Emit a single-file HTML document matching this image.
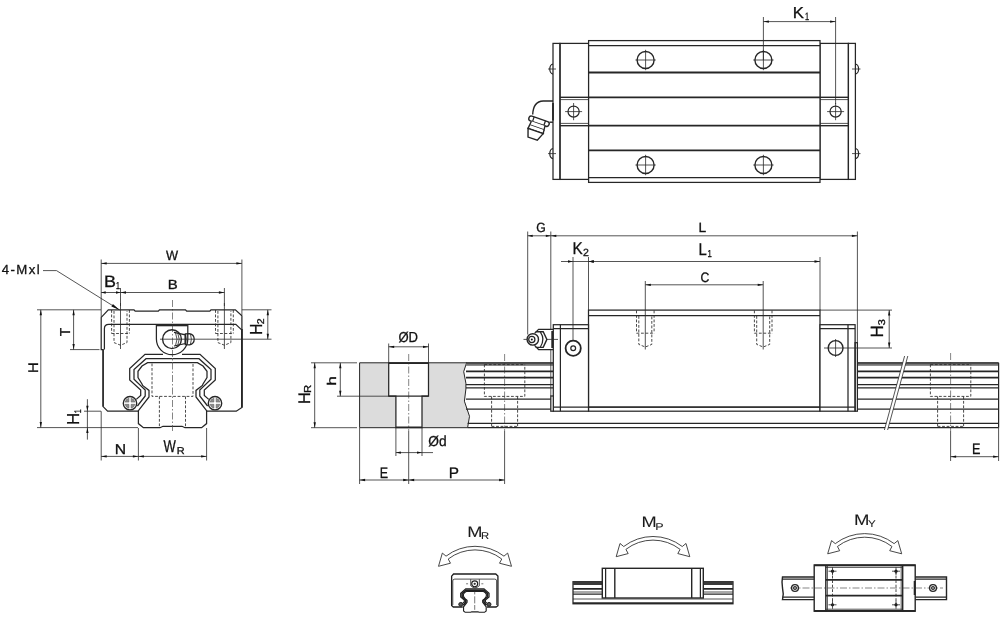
<!DOCTYPE html>
<html><head><meta charset="utf-8"><title>Linear guide dimensions</title>
<style>
html,body{margin:0;padding:0;background:#fff;}
body{width:1000px;height:624px;overflow:hidden;font-family:"Liberation Sans",sans-serif;}
svg{display:block}
svg text{font-family:"Liberation Sans",sans-serif;fill:#111;stroke:#111;stroke-width:.3;text-rendering:geometricPrecision;}
svg{will-change:transform;}
.o{fill:none;stroke:#262626;stroke-width:1.25;}
.ow{fill:#fff;stroke:#262626;stroke-width:1.25;}
.t{fill:none;stroke:#262626;stroke-width:1.8;}
.m{fill:none;stroke:#262626;stroke-width:1.4;}
.mw{fill:#fff;stroke:#262626;stroke-width:1.4;}
.d{fill:none;stroke:#2a2a2a;stroke-width:.8;}
.h{fill:none;stroke:#2a2a2a;stroke-width:.85;stroke-dasharray:2.8 1.7;}
.c{fill:none;stroke:#333;stroke-width:.6;stroke-dasharray:7 2 1.5 2;}
.ah{fill:#111;stroke:none;}
svg text.n{stroke-width:.08;fill:#1a1a1a;}
.g{fill:#dcdcdc;stroke:#262626;stroke-width:1;}
.k{fill:#747474;stroke:none;}
.w{fill:#fff;stroke:none;}
</style></head>
<body>
<svg width="1000" height="624" viewBox="0 0 1000 624">
<rect class="w" x="0" y="0" width="1000" height="624"/>
<g id="topview">
<rect class="o" x="553" y="43.4" width="7" height="136.0"/>
<rect class="o" x="560" y="43.4" width="28.6" height="136.0"/>
<rect class="o" x="820" y="43.4" width="28.4" height="136.0"/>
<rect class="o" x="848.4" y="43.4" width="7.0" height="136.0"/>
<rect class="ow" x="588.6" y="40.6" width="231.4" height="141.8"/>
<line class="o" x1="588.6" y1="45.6" x2="820" y2="45.6"/>
<line class="o" x1="588.6" y1="177.6" x2="820" y2="177.6"/>
<line class="t" x1="588.6" y1="72.5" x2="820" y2="72.5"/>
<line class="t" x1="588.6" y1="97.3" x2="820" y2="97.3"/>
<line class="t" x1="588.6" y1="125.7" x2="820" y2="125.7"/>
<line class="t" x1="588.6" y1="150.3" x2="820" y2="150.3"/>
<line class="m" x1="560" y1="97.3" x2="588.6" y2="97.3"/>
<line class="d" x1="560" y1="99.6" x2="588.6" y2="99.6"/>
<line class="m" x1="560" y1="125.7" x2="588.6" y2="125.7"/>
<line class="d" x1="560" y1="123.4" x2="588.6" y2="123.4"/>
<line class="m" x1="820" y1="97.3" x2="848.4" y2="97.3"/>
<line class="d" x1="820" y1="99.6" x2="848.4" y2="99.6"/>
<line class="m" x1="820" y1="125.7" x2="848.4" y2="125.7"/>
<line class="d" x1="820" y1="123.4" x2="848.4" y2="123.4"/>
<circle class="m" cx="645.6" cy="60" r="8.5"/>
<line class="d" x1="635.4" y1="60" x2="655.8000000000001" y2="60"/>
<line class="d" x1="645.6" y1="49.8" x2="645.6" y2="70.2"/>
<circle class="m" cx="645.6" cy="165" r="8.5"/>
<line class="d" x1="635.4" y1="165" x2="655.8000000000001" y2="165"/>
<line class="d" x1="645.6" y1="154.8" x2="645.6" y2="175.2"/>
<circle class="m" cx="763.4" cy="60" r="8.5"/>
<line class="d" x1="753.1999999999999" y1="60" x2="773.6" y2="60"/>
<line class="d" x1="763.4" y1="49.8" x2="763.4" y2="70.2"/>
<circle class="m" cx="763.4" cy="165" r="8.5"/>
<line class="d" x1="753.1999999999999" y1="165" x2="773.6" y2="165"/>
<line class="d" x1="763.4" y1="154.8" x2="763.4" y2="175.2"/>
<circle class="o" cx="573.6" cy="111.6" r="5.6"/>
<line class="d" x1="565.1" y1="111.6" x2="582.1" y2="111.6"/>
<line class="d" x1="573.6" y1="103" x2="573.6" y2="120.2"/>
<circle class="o" cx="835.6" cy="111.6" r="5.6"/>
<line class="d" x1="827.1" y1="111.6" x2="844.1" y2="111.6"/>
<line class="d" x1="835.6" y1="103" x2="835.6" y2="120.2"/>
<path class="o" d="M553,64 A3.2,5 0 0 0 553,74"/>
<line class="d" x1="548" y1="69" x2="556" y2="69"/>
<path class="o" d="M855.4,64 A3.2,5 0 0 1 855.4,74"/>
<line class="d" x1="852" y1="69" x2="860.5" y2="69"/>
<path class="o" d="M553,148.6 A3.2,5 0 0 0 553,158.6"/>
<line class="d" x1="548" y1="153.6" x2="556" y2="153.6"/>
<path class="o" d="M855.4,148.6 A3.2,5 0 0 1 855.4,158.6"/>
<line class="d" x1="852" y1="153.6" x2="860.5" y2="153.6"/>
<line class="d" x1="763.4" y1="17" x2="763.4" y2="60"/>
<line class="d" x1="835.6" y1="17" x2="835.6" y2="104"/>
<line class="d" x1="763.4" y1="21.6" x2="835.6" y2="21.6"/>
<polygon class="ah" points="763.40,21.60 768.90,20.45 768.90,22.75"/>
<polygon class="ah" points="835.60,21.60 830.10,22.75 830.10,20.45"/>
<text transform="translate(792.66,18) scale(1.047,1)" font-size="15.94">K</text>
<text transform="translate(805.04,20) scale(0.703,1)" font-size="10.58">1</text>
<path class="m" d="M553,101 L543.2,101 C537,101.3 533,106 532.7,114.6"/>
<path class="m" d="M553,122.2 L549.5,122.2"/>
<line class="t" x1="553" y1="103" x2="553" y2="120.5"/>
<g transform="translate(539,121.2) rotate(19)">
<rect class="mw" x="-10.6" y="-2.5" width="21.2" height="5" rx="2.3"/>
<line class="o" x1="-6" y1="-2.5" x2="-6" y2="2.5"/>
<line class="o" x1="6" y1="-2.5" x2="6" y2="2.5"/>
<path class="mw" d="M-7.2,2.5 L-7.6,6.6 L7.6,6.6 L7.2,2.5"/>
<path class="mw" d="M-7.6,6.6 L-8,10.4 L8,10.4 L7.6,6.6"/>
<path class="mw" d="M-8,10.4 L-5.2,18.6 L4.6,18.6 L8,10.4 Z"/>
</g>
</g>
<g id="frontview">
<path class="o" d="M138.4,411.2 L107.6,411.2 L103.1,406.6 L103.1,349.6 L101.2,349.6 L101.2,317.4 L108.3,309.8 L134,309.8 L135.2,311.2 L158.3,311.2 L159.5,309.8 L185.5,309.8 L186.7,311.2 L209.8,311.2 L211,309.8 L235.4,309.8 L241.9,315.8 L241.9,407.4 L236.3,411.2 L206.6,411.2"/>
<line class="m" x1="103.1" y1="349.6" x2="103.1" y2="406.6"/>
<line class="t" x1="241.9" y1="329" x2="241.9" y2="407.4"/>
<path class="o" d="M104.4,349.6 L104.4,328.8 Q104.4,324.4 108.8,324.4 L235.8,324.4 L241.4,329.6"/>
<line class="t" x1="156.4" y1="325.4" x2="187.8" y2="325.4"/>
<path class="o" d="M156.4,324.4 L156.4,339 A15.7,15.7 0 0 0 187.8,339 L187.8,324.4"/>
<path class="o" d="M163,354.4 L145,354.4 L129.7,368.6 L129.7,380 L140.7,390 L140.7,395.5 L136.3,399.4"/>
<path class="o" d="M182.0,354.4 L200.0,354.4 L215.3,368.6 L215.3,380 L204.3,390 L204.3,395.5 L208.7,399.4"/>
<path class="o" d="M172.5,358.7 L146,358.7 L134,369.5 L134,379.2 L145.2,390 L145.2,396 L137.4,406"/>
<path class="o" d="M172.5,358.7 L199.0,358.7 L211.0,369.5 L211.0,379.2 L199.8,390 L199.8,396 L207.6,406"/>
<path class="o" d="M172.5,362.6 L147.6,362.6 L142,366 L138,371.3 L138,377.5 L142,384 L142.6,385.4 L149,390.4 L149,397 L138.4,410.6 L138.4,423.6 L143.4,427.7 L160,427.7 L163,426.3 L172.5,426.3"/>
<path class="o" d="M172.5,362.6 L197.4,362.6 L203.0,366 L207.0,371.3 L207.0,377.5 L203.0,384 L202.4,385.4 L196.0,390.4 L196.0,397 L206.6,410.6 L206.6,423.6 L201.6,427.7 L185.0,427.7 L182.0,426.3 L172.5,426.3"/>
<circle class="mw" cx="130" cy="403.2" r="6.7"/>
<path d="M128.90,402.10 L125.02,402.10 A5.1,5.1 0 0 1 128.90,398.22 Z" fill="#8c8c8c" stroke="#555" stroke-width=".5"/>
<path d="M131.10,402.10 L134.98,402.10 A5.1,5.1 0 0 0 131.10,398.22 Z" fill="#8c8c8c" stroke="#555" stroke-width=".5"/>
<path d="M128.90,404.30 L125.02,404.30 A5.1,5.1 0 0 0 128.90,408.18 Z" fill="#8c8c8c" stroke="#555" stroke-width=".5"/>
<path d="M131.10,404.30 L134.98,404.30 A5.1,5.1 0 0 1 131.10,408.18 Z" fill="#8c8c8c" stroke="#555" stroke-width=".5"/>
<circle class="mw" cx="215" cy="403.2" r="6.7"/>
<path d="M213.90,402.10 L210.02,402.10 A5.1,5.1 0 0 1 213.90,398.22 Z" fill="#8c8c8c" stroke="#555" stroke-width=".5"/>
<path d="M216.10,402.10 L219.98,402.10 A5.1,5.1 0 0 0 216.10,398.22 Z" fill="#8c8c8c" stroke="#555" stroke-width=".5"/>
<path d="M213.90,404.30 L210.02,404.30 A5.1,5.1 0 0 0 213.90,408.18 Z" fill="#8c8c8c" stroke="#555" stroke-width=".5"/>
<path d="M216.10,404.30 L219.98,404.30 A5.1,5.1 0 0 1 216.10,408.18 Z" fill="#8c8c8c" stroke="#555" stroke-width=".5"/>
<path class="h" d="M111.6,310 L111.6,333.5 M129.4,310 L129.4,333.5 M114.0,311 L114.0,342.6 L120.5,345.2 L127.0,342.6 L127.0,311 M111.6,333.5 L129.4,333.5"/>
<line class="d" x1="120.5" y1="303" x2="120.5" y2="349"/>
<path class="h" d="M215.5,310 L215.5,333.5 M233.3,310 L233.3,333.5 M217.9,311 L217.9,342.6 L224.4,345.2 L230.9,342.6 L230.9,311 M215.5,333.5 L233.3,333.5"/>
<line class="d" x1="224.4" y1="303" x2="224.4" y2="349"/>
<path class="h" d="M152,363.5 L152,396.4 L193,396.4 L193,363.5 M159.4,396.4 L159.4,427 M185.5,396.4 L185.5,427"/>
<line class="c" x1="172.5" y1="300" x2="172.5" y2="431"/>
<circle class="m" cx="172" cy="339.2" r="9.4"/>
<line class="d" x1="160" y1="339.2" x2="198" y2="339.2"/>
<path class="o" d="M174,332.4 L185.3,334.8 L185.3,343.6 L174,346"/>
<path class="d" d="M175.5,332.8 Q178.5,339.2 175.5,345.6 M177.8,333.2 Q180.6,339.2 177.8,345.2"/>
<path class="o" d="M185.3,333.8 L189.5,333.6 Q194.2,334.6 194.2,339.2 Q194.2,343.8 189.5,344.8 L185.3,344.6 Z"/>
<path class="d" d="M187.4,333.8 Q185.8,339.2 187.4,344.6 M190.4,334 Q192.4,339.2 190.4,344.4"/>
<line class="d" x1="101.2" y1="259.5" x2="101.2" y2="317"/>
<line class="d" x1="241.9" y1="259.5" x2="241.9" y2="315"/>
<line class="d" x1="101.2" y1="263.4" x2="241.9" y2="263.4"/>
<polygon class="ah" points="101.20,263.40 106.70,262.25 106.70,264.55"/>
<polygon class="ah" points="241.90,263.40 236.40,264.55 236.40,262.25"/>
<text transform="translate(165.94,260) scale(0.942,1)" font-size="13.62">W</text>
<line class="d" x1="120.5" y1="288" x2="120.5" y2="306"/>
<line class="d" x1="224.4" y1="288" x2="224.4" y2="306"/>
<line class="d" x1="120.5" y1="292.5" x2="224.4" y2="292.5"/>
<polygon class="ah" points="120.50,292.50 126.00,291.35 126.00,293.65"/>
<polygon class="ah" points="224.40,292.50 218.90,293.65 218.90,291.35"/>
<line class="d" x1="101.2" y1="292.5" x2="120.5" y2="292.5"/>
<polygon class="ah" points="101.20,292.50 105.70,291.35 105.70,293.65"/>
<polygon class="ah" points="120.50,292.50 116.00,293.65 116.00,291.35"/>
<text transform="translate(103.96,287) scale(1.086,1)" font-size="16.52">B</text>
<text transform="translate(116.08,289.4) scale(0.688,1)" font-size="10.14">1</text>
<text transform="translate(167.80,288.6) scale(1.134,1)" font-size="13.19">B</text>
<text transform="translate(1.7,274) scale(1,1)" font-size="13.2" text-anchor="start" letter-spacing="1.45">4-Mxl</text>
<path class="d" d="M43,270.6 L56.5,270.6 L119.5,309.9"/>
<polygon class="ah" points="119.60,310.00 111.37,306.57 112.91,304.11"/>
<line class="d" x1="37" y1="309.8" x2="101" y2="309.8"/>
<line class="d" x1="37" y1="427.6" x2="138" y2="427.6"/>
<line class="d" x1="40.8" y1="309.8" x2="40.8" y2="427.6"/>
<polygon class="ah" points="40.80,309.80 41.95,315.30 39.65,315.30"/>
<polygon class="ah" points="40.80,427.60 39.65,422.10 41.95,422.10"/>
<text transform="translate(37.9,372.89) rotate(-90) scale(1.065,1)" font-size="13.91">H</text>
<line class="d" x1="70" y1="349.6" x2="99.5" y2="349.6"/>
<line class="d" x1="73.6" y1="309.8" x2="73.6" y2="349.6"/>
<polygon class="ah" points="73.60,309.80 74.75,315.30 72.45,315.30"/>
<polygon class="ah" points="73.60,349.60 72.45,344.10 74.75,344.10"/>
<text transform="translate(69.8,336.25) rotate(-90) scale(0.975,1)" font-size="14.35">T</text>
<line class="d" x1="84" y1="411.2" x2="101" y2="411.2"/>
<line class="d" x1="87.4" y1="399.2" x2="87.4" y2="439.6"/>
<polygon class="ah" points="87.40,411.20 86.25,405.70 88.55,405.70"/>
<polygon class="ah" points="87.40,427.60 88.55,433.10 86.25,433.10"/>
<text transform="translate(79.4,425.04) rotate(-90) scale(0.973,1)" font-size="17.25">H</text>
<text transform="translate(81,413.32) rotate(-90) scale(0.729,1)" font-size="9.57">1</text>
<line class="d" x1="241.9" y1="309.8" x2="271.5" y2="309.8"/>
<line class="d" x1="198" y1="339.2" x2="271.5" y2="339.2"/>
<line class="d" x1="267.8" y1="309.8" x2="267.8" y2="339.2"/>
<polygon class="ah" points="267.80,309.80 268.95,315.30 266.65,315.30"/>
<polygon class="ah" points="267.80,339.20 266.65,333.70 268.95,333.70"/>
<text transform="translate(262.3,334.83) rotate(-90) scale(0.883,1)" font-size="17.39">H</text>
<text transform="translate(264.3,324.33) rotate(-90) scale(1.070,1)" font-size="9.86">2</text>
<line class="d" x1="101.2" y1="411.2" x2="101.2" y2="460.5"/>
<line class="d" x1="138.4" y1="428" x2="138.4" y2="460.5"/>
<line class="d" x1="206.6" y1="428" x2="206.6" y2="460.5"/>
<line class="d" x1="101.2" y1="456.4" x2="138.4" y2="456.4"/>
<polygon class="ah" points="101.20,456.40 106.70,455.25 106.70,457.55"/>
<polygon class="ah" points="138.40,456.40 132.90,457.55 132.90,455.25"/>
<line class="d" x1="138.4" y1="456.4" x2="206.6" y2="456.4"/>
<polygon class="ah" points="138.40,456.40 143.90,455.25 143.90,457.55"/>
<polygon class="ah" points="206.60,456.40 201.10,457.55 201.10,455.25"/>
<text transform="translate(114.64,454.4) scale(1.106,1)" font-size="14.20">N</text>
<text transform="translate(163.43,451.9) scale(0.757,1)" font-size="17.25">W</text>
<text transform="translate(176.63,454.1) scale(1.109,1)" font-size="9.86">R</text>
</g>
<g id="sideview">
<path class="g" d="M359.6,362.8 L466.6,362.8 L463.7,371.6 L465.9,383.2 L465.9,389 L464.4,401.2 L469.5,416.3 L467.6,427.7 L359.6,427.7 Z"/>
<path class="ow" d="M388.7,362.8 L388.7,396.2 L395.9,396.2 L395.9,427.7 L422,427.7 L422,396.2 L428.5,396.2 L428.5,362.8 Z"/>
<line class="m" x1="388.7" y1="363.3" x2="428.5" y2="363.3"/>
<line class="m" x1="395.9" y1="427.2" x2="422" y2="427.2"/>
<line class="o" x1="388.7" y1="396.2" x2="428.5" y2="396.2"/>
<line class="c" x1="408.7" y1="354" x2="408.7" y2="431"/>
<line class="d" x1="408.7" y1="431" x2="408.7" y2="484"/>
<rect class="k" x="466" y="362.5" width="87.3" height="3.3"/>
<line class="o" x1="466" y1="362.8" x2="553.3" y2="362.8"/>
<line class="t" x1="466" y1="371.3" x2="553.3" y2="371.3"/>
<line class="t" x1="466" y1="377.7" x2="553.3" y2="377.7"/>
<line class="o" x1="466" y1="384.7" x2="553.3" y2="384.7"/>
<line class="o" x1="466" y1="387.9" x2="553.3" y2="387.9"/>
<line class="o" x1="466" y1="399" x2="553.3" y2="399"/>
<line class="o" x1="466" y1="409.1" x2="553.3" y2="409.1"/>
<rect class="k" x="857.4" y="362.5" width="141.2" height="3.3"/>
<line class="o" x1="857.4" y1="362.8" x2="998.6" y2="362.8"/>
<line class="t" x1="857.4" y1="371.3" x2="998.6" y2="371.3"/>
<line class="t" x1="857.4" y1="377.7" x2="998.6" y2="377.7"/>
<line class="o" x1="857.4" y1="384.7" x2="998.6" y2="384.7"/>
<line class="o" x1="857.4" y1="387.9" x2="998.6" y2="387.9"/>
<line class="o" x1="857.4" y1="399" x2="998.6" y2="399"/>
<line class="o" x1="857.4" y1="409.1" x2="998.6" y2="409.1"/>
<line class="o" x1="467.6" y1="423.4" x2="998.6" y2="423.4"/>
<line class="o" x1="467.6" y1="427.7" x2="998.6" y2="427.7"/>
<line class="o" x1="998.6" y1="362.8" x2="998.6" y2="427.7"/>
<path class="h" d="M484.40000000000003,364.5 L484.40000000000003,396.4 L524.8000000000001,396.4 L524.8000000000001,364.5 M484.40000000000003,364.6 L524.8000000000001,364.6 M491.6,396.4 L491.6,427 M517.6,396.4 L517.6,427 M491.6,426.4 L517.6,426.4"/>
<path class="h" d="M930.4,364.5 L930.4,396.4 L970.8000000000001,396.4 L970.8000000000001,364.5 M930.4,364.6 L970.8000000000001,364.6 M937.6,396.4 L937.6,427 M963.6,396.4 L963.6,427 M937.6,426.4 L963.6,426.4"/>
<line class="c" x1="504.6" y1="354" x2="504.6" y2="431"/>
<line class="d" x1="504.6" y1="431" x2="504.6" y2="484"/>
<line class="c" x1="950.6" y1="353" x2="950.6" y2="431"/>
<line class="d" x1="950.6" y1="431" x2="950.6" y2="461"/>
<polygon class="w" points="904.6,356 907.8,356 887.6,430 884.4,430"/>
<line class="d" x1="904.6" y1="356" x2="884.4" y2="430"/>
<line class="d" x1="907.8" y1="356" x2="887.6" y2="430"/>
<rect class="ow" x="588.5" y="310.1" width="231.5" height="101.1"/>
<line class="o" x1="588.5" y1="315.6" x2="820" y2="315.6"/>
<line class="o" x1="553.3" y1="407" x2="855.1" y2="407"/>
<rect class="ow" x="553.3" y="324.7" width="35.2" height="86.5"/>
<line class="o" x1="560.4" y1="324.7" x2="560.4" y2="411.2"/>
<line class="o" x1="553.3" y1="328.7" x2="588.5" y2="328.7"/>
<rect class="ow" x="820" y="324.7" width="35.1" height="86.5"/>
<line class="o" x1="848" y1="324.7" x2="848" y2="411.2"/>
<line class="o" x1="820" y1="328.7" x2="855.1" y2="328.7"/>
<line class="o" x1="553.3" y1="407" x2="855.1" y2="407"/>
<rect class="ow" x="550.8" y="396" width="2.5" height="15.2"/>
<line class="d" x1="550.8" y1="349.5" x2="550.8" y2="396"/>
<rect class="o" x="855.1" y="342.7" width="2.3" height="68.5"/>
<circle class="t" cx="573.2" cy="348.2" r="7.6"/>
<circle class="o" cx="573.2" cy="348.2" r="2.4"/>
<circle class="m" cx="835.6" cy="348" r="7.4"/>
<line class="d" x1="824" y1="348" x2="848" y2="348"/>
<line class="d" x1="835.6" y1="339" x2="835.6" y2="357"/>
<path class="h" d="M636.5,310.5 L636.5,333.2 M654.0999999999999,310.5 L654.0999999999999,333.2 M638.8,316 L638.8,344.4 L645.3,347 L651.8,344.4 L651.8,316 M636.5,333.2 L654.0999999999999,333.2"/>
<line class="d" x1="645.3" y1="281" x2="645.3" y2="349.5"/>
<path class="h" d="M754.4000000000001,310.5 L754.4000000000001,333.2 M772.0,310.5 L772.0,333.2 M756.7,316 L756.7,344.4 L763.2,347 L769.7,344.4 L769.7,316 M754.4000000000001,333.2 L772.0,333.2"/>
<line class="d" x1="763.2" y1="281" x2="763.2" y2="349.5"/>
<path class="o" d="M553.3,329.4 L538.6,329.4 L534.5,333.4 M553.3,349.5 L538.6,349.5 L534.5,345.4"/>
<path class="m" d="M535.6,331.8 L543.2,331.8 L546.9,339.4 L543.2,347.4 L535.6,347.4"/>
<path class="o" d="M540.4,332.2 Q545.4,339.4 540.4,347"/>
<line class="t" x1="552.2" y1="331" x2="552.2" y2="348"/>
<circle class="mw" cx="532.8" cy="339.4" r="5.7"/>
<circle class="o" cx="531.8" cy="339.4" r="3.1"/>
<circle class="ah" cx="531.8" cy="339.4" r="1"/>
<line class="d" x1="523.5" y1="339.4" x2="527" y2="339.4"/>
<line class="d" x1="547" y1="339.4" x2="558" y2="339.4"/>
<line class="d" x1="527.7" y1="231.5" x2="527.7" y2="334.5"/>
<line class="d" x1="550.8" y1="231.5" x2="550.8" y2="329.4"/>
<line class="d" x1="857.4" y1="231.5" x2="857.4" y2="342.7"/>
<line class="d" x1="550.8" y1="235.8" x2="857.4" y2="235.8"/>
<polygon class="ah" points="550.80,235.80 556.30,234.65 556.30,236.95"/>
<polygon class="ah" points="857.40,235.80 851.90,236.95 851.90,234.65"/>
<line class="d" x1="527.7" y1="235.8" x2="550.8" y2="235.8"/>
<polygon class="ah" points="527.70,235.80 532.70,234.65 532.70,236.95"/>
<polygon class="ah" points="550.80,235.80 545.80,236.95 545.80,234.65"/>
<text transform="translate(536.19,231.5) scale(0.916,1)" font-size="13.33">G</text>
<text transform="translate(698.60,231.5) scale(1.028,1)" font-size="13.33">L</text>
<line class="d" x1="573" y1="257" x2="573" y2="340"/>
<line class="d" x1="588.5" y1="257" x2="588.5" y2="310"/>
<line class="d" x1="820" y1="257" x2="820" y2="310"/>
<line class="d" x1="588.5" y1="261.5" x2="820" y2="261.5"/>
<polygon class="ah" points="588.50,261.50 594.00,260.35 594.00,262.65"/>
<polygon class="ah" points="820.00,261.50 814.50,262.65 814.50,260.35"/>
<line class="d" x1="561" y1="261.5" x2="588.5" y2="261.5"/>
<polygon class="ah" points="573.00,261.50 568.00,262.65 568.00,260.35"/>
<polygon class="ah" points="588.50,261.50 593.50,260.35 593.50,262.65"/>
<text transform="translate(572.58,254.2) scale(0.903,1)" font-size="16.96">K</text>
<text transform="translate(582.97,256.4) scale(1.011,1)" font-size="10.43">2</text>
<text transform="translate(698.51,254.5) scale(0.875,1)" font-size="16.96">L</text>
<text transform="translate(707.42,256.6) scale(0.756,1)" font-size="10.14">1</text>
<line class="d" x1="645.3" y1="284.8" x2="763.2" y2="284.8"/>
<polygon class="ah" points="645.30,284.80 650.80,283.65 650.80,285.95"/>
<polygon class="ah" points="763.20,284.80 757.70,285.95 757.70,283.65"/>
<text transform="translate(700.39,282.1) scale(0.897,1)" font-size="13.62">C</text>
<line class="d" x1="820" y1="310.1" x2="892" y2="310.1"/>
<line class="d" x1="848" y1="348" x2="892" y2="348"/>
<line class="d" x1="889.2" y1="310.1" x2="889.2" y2="348"/>
<polygon class="ah" points="889.20,310.10 890.35,315.60 888.05,315.60"/>
<polygon class="ah" points="889.20,348.00 888.05,342.50 890.35,342.50"/>
<text transform="translate(883.2,337.54) rotate(-90) scale(0.949,1)" font-size="17.68">H</text>
<text transform="translate(885.3,325.46) rotate(-90) scale(1.166,1)" font-size="9.86">3</text>
<line class="d" x1="388.7" y1="343.5" x2="388.7" y2="362.8"/>
<line class="d" x1="428.5" y1="343.5" x2="428.5" y2="362.8"/>
<line class="d" x1="388.7" y1="346.8" x2="428.5" y2="346.8"/>
<polygon class="ah" points="388.70,346.80 394.20,345.65 394.20,347.95"/>
<polygon class="ah" points="428.50,346.80 423.00,347.95 423.00,345.65"/>
<text transform="translate(398.38,341.6) scale(0.902,1)" font-size="14.49">ØD</text>
<line class="d" x1="395.9" y1="427.7" x2="395.9" y2="456"/>
<line class="d" x1="422" y1="427.7" x2="422" y2="456"/>
<line class="d" x1="395.9" y1="452.6" x2="433" y2="452.6"/>
<polygon class="ah" points="395.90,452.60 400.90,451.45 400.90,453.75"/>
<polygon class="ah" points="422.00,452.60 417.00,453.75 417.00,451.45"/>
<text transform="translate(428.35,446.4) scale(0.948,1)" font-size="14.49">Ød</text>
<line class="d" x1="359.6" y1="428" x2="359.6" y2="484"/>
<line class="d" x1="359.6" y1="480" x2="408.7" y2="480"/>
<polygon class="ah" points="359.60,480.00 365.10,478.85 365.10,481.15"/>
<polygon class="ah" points="408.70,480.00 403.20,481.15 403.20,478.85"/>
<line class="d" x1="408.7" y1="480" x2="504.6" y2="480"/>
<polygon class="ah" points="408.70,480.00 414.20,478.85 414.20,481.15"/>
<polygon class="ah" points="504.60,480.00 499.10,481.15 499.10,478.85"/>
<text transform="translate(379.70,478) scale(0.820,1)" font-size="15.22">E</text>
<text transform="translate(448.87,478) scale(1.007,1)" font-size="15.22">P</text>
<line class="d" x1="311" y1="362.8" x2="357" y2="362.8"/>
<line class="d" x1="311" y1="427.7" x2="357" y2="427.7"/>
<line class="d" x1="337" y1="396.2" x2="388.7" y2="396.2"/>
<line class="d" x1="340.3" y1="362.8" x2="340.3" y2="396.2"/>
<polygon class="ah" points="340.30,362.80 341.45,368.30 339.15,368.30"/>
<polygon class="ah" points="340.30,396.20 339.15,390.70 341.45,390.70"/>
<line class="d" x1="314.7" y1="362.8" x2="314.7" y2="427.7"/>
<polygon class="ah" points="314.70,362.80 315.85,368.30 313.55,368.30"/>
<polygon class="ah" points="314.70,427.70 313.55,422.20 315.85,422.20"/>
<text transform="translate(335.8,385.72) rotate(-90) scale(1.379,1)" font-size="12.60">h</text>
<text transform="translate(309.6,404.36) rotate(-90) scale(1.018,1)" font-size="16.67">H</text>
<text transform="translate(311.2,393.11) rotate(-90) scale(1.127,1)" font-size="10.14">R</text>
<line class="d" x1="998.6" y1="428" x2="998.6" y2="461"/>
<line class="d" x1="950.6" y1="456.7" x2="998.6" y2="456.7"/>
<polygon class="ah" points="950.60,456.70 956.10,455.55 956.10,457.85"/>
<polygon class="ah" points="998.60,456.70 993.10,457.85 993.10,455.55"/>
<text transform="translate(971.99,453.9) scale(0.832,1)" font-size="15.22">E</text>
</g>
<g id="moments">
<text class="n" transform="translate(467.34,536.5) scale(1.185,1)" font-size="15.36">M</text>
<text class="n" transform="translate(481.00,539) scale(1.143,1)" font-size="9.86">R</text>
<path d="M438.50,566.30 L442.35,553.07 L446.04,556.15 A47.50,47.50 0 0 1 503.96,556.15 L507.65,553.07 L511.50,566.30 L499.52,563.21 L501.76,559.00 A43.90,43.90 0 0 0 448.24,559.00 L450.48,563.21 Z" fill="#fff" stroke="#333" stroke-width=".9" stroke-linejoin="miter"/>
<g transform="translate(451.2,574.4) scale(0.332,0.3215) translate(-101.2,-309.8)" style="stroke-width:3.6">
<path d="M136,411.2 L107.6,411.2 L102.5,406.6 L102.5,315.4 L108.3,308.6 L235.4,308.6 L241.9,314.8 L241.9,407.4 L236.3,411.2 L209,411.2" fill="#fff" stroke="#1f1f1f" stroke-width="4"/>
<path d="M106,405 L106,330 Q106,324.4 112,324.4 L232,324.4 Q238,324.4 238,330 L238,405" fill="none" stroke="#1f1f1f" stroke-width="2.4"/>
<path d="M136.3,399.4 L140.7,395.5 L140.7,390 L129.7,380 L129.7,368.6 L145,354.4 L163,354.4 L182.0,354.4 L200.0,354.4 L215.3,368.6 L215.3,380 L204.3,390 L204.3,395.5 L208.7,399.4" fill="none" stroke="#1f1f1f" stroke-width="3.4"/>
<path d="M172.5,426.3 L163,426.3 L160,427.7 L143.4,427.7 L138.4,423.6 L138.4,410.6 L149,397 L149,390.4 L142.6,385.4 L142,384 L138,377.5 L138,371.3 L142,366 L147.6,362.6 L172.5,362.6 L172.5,362.6 L197.4,362.6 L203.0,366 L207.0,371.3 L207.0,377.5 L203.0,384 L202.4,385.4 L196.0,390.4 L196.0,397 L206.6,410.6 L206.6,423.6 L201.6,427.7 L185.0,427.7 L182.0,426.3 L172.5,426.3" fill="none" stroke="#1f1f1f" stroke-width="3.4"/>
<path d="M137.4,406 L145.2,396 L145.2,390 L134,379.2 L134,369.5 L146,358.7 L172.5,358.7 L172.5,358.7 L199.0,358.7 L211.0,369.5 L211.0,379.2 L199.8,390 L199.8,396 L207.6,406" fill="none" stroke="#1f1f1f" stroke-width="5"/>
<circle cx="130" cy="403" r="6" fill="#555" stroke="#1f1f1f" stroke-width="3"/><circle cx="215" cy="403" r="6" fill="#555" stroke="#1f1f1f" stroke-width="3"/>
<circle cx="172" cy="339" r="9" fill="#fff" stroke="#1f1f1f" stroke-width="3.4"/><circle cx="172" cy="339" r="3.5" fill="#333"/>
<path d="M160,325 L160,345 Q172,358 186,345 L186,325" fill="none" stroke="#1f1f1f" stroke-width="2.4"/>
<path d="M146,339 L152,339 M192,339 L198,339 M172,362 L172,372 M172,378 L172,400 M172,405 L172,420" fill="none" stroke="#333" stroke-width="2"/>
</g>
<text class="n" transform="translate(641.54,527) scale(1.185,1)" font-size="15.36">M</text>
<text class="n" transform="translate(655.30,530.4) scale(1.271,1)" font-size="9.86">P</text>
<path d="M616.20,556.70 L620.01,543.46 L623.71,546.52 A47.80,47.80 0 0 1 682.29,546.52 L685.99,543.46 L689.80,556.70 L677.82,553.57 L680.08,549.37 A44.20,44.20 0 0 0 625.92,549.37 L628.18,553.57 Z" fill="#fff" stroke="#333" stroke-width=".9" stroke-linejoin="miter"/>
<rect class="ow" x="573" y="581.7" width="160" height="22.1"/>
<rect class="k" x="573" y="581.7" width="160" height="3.3" style="fill:#3a3a3a"/>
<line class="t" x1="573" y1="588.8" x2="733" y2="588.8"/>
<line class="d" x1="573" y1="592" x2="733" y2="592"/>
<line class="o" x1="573" y1="594.2" x2="733" y2="594.2"/>
<line class="d" x1="573" y1="599" x2="733" y2="599"/>
<line class="t" x1="573" y1="603.2" x2="733" y2="603.2"/>
<rect class="mw" x="602.3" y="568.3" width="101.0" height="29.7"/>
<line class="o" x1="605.6" y1="568.3" x2="605.6" y2="598"/>
<line class="m" x1="614.8" y1="568.3" x2="614.8" y2="598"/>
<line class="m" x1="691.7" y1="568.3" x2="691.7" y2="598"/>
<line class="o" x1="700.4" y1="568.3" x2="700.4" y2="598"/>
<text class="n" transform="translate(854.12,524.6) scale(1.205,1)" font-size="15.36">M</text>
<text class="n" transform="translate(868.11,527.3) scale(1.178,1)" font-size="9.86">Y</text>
<path d="M827.70,553.80 L831.55,540.58 L835.25,543.64 A48.20,48.20 0 0 1 894.15,543.64 L897.85,540.58 L901.70,553.80 L889.71,550.71 L891.95,546.49 A44.60,44.60 0 0 0 837.45,546.49 L839.69,550.71 Z" fill="#fff" stroke="#333" stroke-width=".9" stroke-linejoin="miter"/>
<path class="mw" d="M782.5,577 L946.5,577 L946.5,599.6 L782.5,599.6 Q784,594 782.5,588 Q781.5,582 782.5,577 Z"/>
<line class="o" x1="782.5" y1="579" x2="946.5" y2="579"/>
<line class="o" x1="782.5" y1="597.2" x2="946.5" y2="597.2"/>
<rect class="mw" x="814.2" y="565" width="101.0" height="46.2"/>
<line class="t" x1="814.2" y1="565.4" x2="915.2" y2="565.4"/>
<line class="t" x1="814.2" y1="610.8" x2="915.2" y2="610.8"/>
<line class="m" x1="825.8" y1="565" x2="825.8" y2="611.2"/>
<line class="d" x1="827.4" y1="565" x2="827.4" y2="611.2"/>
<line class="m" x1="902.7" y1="565" x2="902.7" y2="611.2"/>
<line class="d" x1="901.2" y1="565" x2="901.2" y2="611.2"/>
<line class="d" x1="825.8" y1="567.4" x2="902.7" y2="567.4"/>
<line class="d" x1="825.8" y1="609.2" x2="902.7" y2="609.2"/>
<line class="t" x1="825.8" y1="579.8" x2="902.7" y2="579.8"/>
<line class="t" x1="825.8" y1="595.6" x2="902.7" y2="595.6"/>
<line class="h" x1="832.5" y1="571.2" x2="832.5" y2="604.8"/>
<circle class="ah" cx="832.5" cy="571.2" r="1.6"/>
<line class="d" x1="828.5" y1="571.2" x2="836.5" y2="571.2"/>
<line class="d" x1="832.5" y1="567.2" x2="832.5" y2="575.2"/>
<circle class="ah" cx="832.5" cy="604.8" r="1.6"/>
<line class="d" x1="828.5" y1="604.8" x2="836.5" y2="604.8"/>
<line class="d" x1="832.5" y1="600.8" x2="832.5" y2="608.8"/>
<line class="h" x1="896" y1="571.2" x2="896" y2="604.8"/>
<circle class="ah" cx="896" cy="571.2" r="1.6"/>
<line class="d" x1="892" y1="571.2" x2="900" y2="571.2"/>
<line class="d" x1="896" y1="567.2" x2="896" y2="575.2"/>
<circle class="ah" cx="896" cy="604.8" r="1.6"/>
<line class="d" x1="892" y1="604.8" x2="900" y2="604.8"/>
<line class="d" x1="896" y1="600.8" x2="896" y2="608.8"/>
<line class="t" x1="914.6" y1="581" x2="914.6" y2="595"/>
<line class="c" x1="790" y1="588" x2="943" y2="588"/>
<circle class="mw" cx="795" cy="588" r="3.4"/>
<circle class="o" cx="795" cy="588" r="1.4"/>
<circle class="mw" cx="933" cy="588" r="3.4"/>
<circle class="o" cx="933" cy="588" r="1.4"/>
</g>
</svg>
</body></html>
